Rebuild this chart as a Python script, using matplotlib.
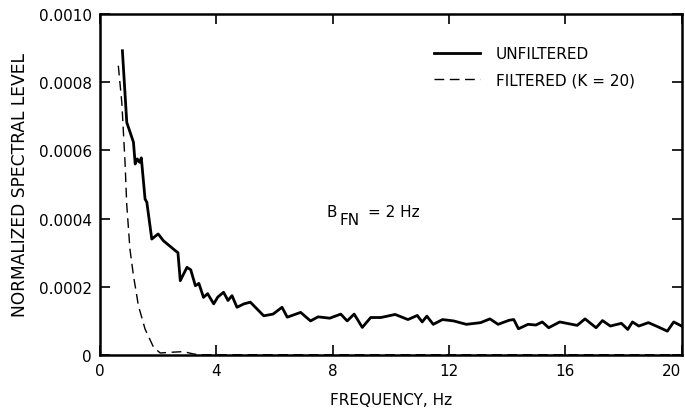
import matplotlib
matplotlib.use("Agg")
import matplotlib.pyplot as plt

plt.rcParams["font.family"] = ["DejaVu Sans"]

# unfiltered spectrum (Hz, level)
freq_unf = [0.77, 0.92, 1.15, 1.21, 1.28, 1.36, 1.42, 1.55, 1.61, 1.78, 2.0, 2.18, 2.59, 2.68,
            2.76, 2.99, 3.12, 3.28, 3.40, 3.56, 3.70, 3.91, 4.05, 4.25, 4.40, 4.54, 4.71, 4.95,
            5.17, 5.63, 5.95, 6.26, 6.44, 6.90, 7.24, 7.50, 7.90, 8.28, 8.50, 8.74, 9.02, 9.31,
            9.66, 10.15, 10.59, 10.91, 11.08, 11.24, 11.46, 11.78, 12.16, 12.60, 13.09, 13.41,
            13.69, 14.07, 14.23, 14.39, 14.72, 14.99, 15.21, 15.43, 15.81, 16.41, 16.68, 17.06,
            17.28, 17.55, 17.93, 18.15, 18.31, 18.53, 18.86, 19.18, 19.51, 19.73, 20.0]
level_unf = [0.000892, 0.000682, 0.000624, 0.000560, 0.000575, 0.000565, 0.000578, 0.000457,
             0.000448, 0.000340, 0.000355, 0.000335, 0.000306, 0.000300, 0.000218, 0.000257,
             0.000250, 0.000203, 0.000210, 0.000169, 0.000180, 0.000150, 0.000170, 0.000184,
             0.000160, 0.000174, 0.000140, 0.000150, 0.000155, 0.000115, 0.000120, 0.000140,
             0.000111, 0.000125, 0.000100, 0.000112, 0.000108, 0.000120, 0.000100, 0.000120,
             0.000081, 0.000110, 0.000110, 0.000119, 0.000104, 0.000116, 0.000097, 0.000114,
             0.000090, 0.000104, 0.000100, 0.000090, 0.000095, 0.000106, 0.000090, 0.000102,
             0.000104, 0.000077, 0.000090, 0.000088, 0.000097, 0.000080, 0.000097, 0.000087,
             0.000106, 0.000080, 0.000101, 0.000085, 0.000093, 0.000075, 0.000097, 0.000085,
             0.000095, 0.000083, 0.000070, 0.000097, 0.000085]

# filtered spectrum (K = 20)
freq_filt = [0.63, 0.75, 0.86, 0.92, 1.03, 1.15, 1.32, 1.55, 1.84, 2.07, 2.41, 2.87, 3.22,
             3.45, 5.0, 7.0, 20.0]
level_filt = [0.000848, 0.000740, 0.000566, 0.000440, 0.000310, 0.000233, 0.000145, 0.000076,
              0.000023, 0.000006, 0.000008, 0.000010, 0.000003, 0.000001, 0.000001, 0.000001,
              0.000001]

x_ticks = [0, 4, 8, 12, 16, 20]
y_ticks = [0, 0.0002, 0.0004, 0.0006, 0.0008, 0.0010]
y_tick_labels = ["0", "0.0002", "0.0004", "0.0006", "0.0008", "0.0010"]

fs = 11

fig = plt.figure(figsize=(6.85, 4.14), dpi=100)
ax = fig.add_axes([0.146, 0.140, 0.849, 0.824])

ax.plot(freq_unf, level_unf, color="black", lw=2.0, label="UNFILTERED")
ax.plot(freq_filt, level_filt, color="black", lw=1.0, dashes=(7, 4), label="FILTERED (K = 20)")

ax.set_xlim(0, 20)
ax.set_ylim(0, 0.0010)
ax.set_xticks(x_ticks)
ax.set_xticklabels([str(t) for t in x_ticks])
ax.set_yticks(y_ticks)
ax.set_yticklabels(y_tick_labels)
ax.tick_params(direction="in", length=7, width=1.2, top=True, right=True, labelsize=fs, pad=6)
ax.get_xticklabels()[-1].set_horizontalalignment("right")
for s in ax.spines.values():
    s.set_linewidth(1.8)

ax.set_xlabel("FREQUENCY, Hz", fontsize=fs, labelpad=10)
ax.set_ylabel("NORMALIZED SPECTRAL LEVEL", fontsize=12.3, labelpad=7)

# B_FN annotation, subscript drawn at full size and lowered
ax.text(7.8, 0.000422, "B", fontsize=fs, va="center")
ax.text(8.22, 0.000397, "FN", fontsize=fs, va="center")
ax.text(9.2, 0.000422, "= 2 Hz", fontsize=fs, va="center")

ax.legend(loc="upper left", bbox_to_anchor=(0.575, 0.905), frameon=False, fontsize=fs,
          borderpad=0, borderaxespad=0, handlelength=3.0, handletextpad=1.0,
          labelspacing=0.75)

fig.savefig("out.png", dpi=100)
